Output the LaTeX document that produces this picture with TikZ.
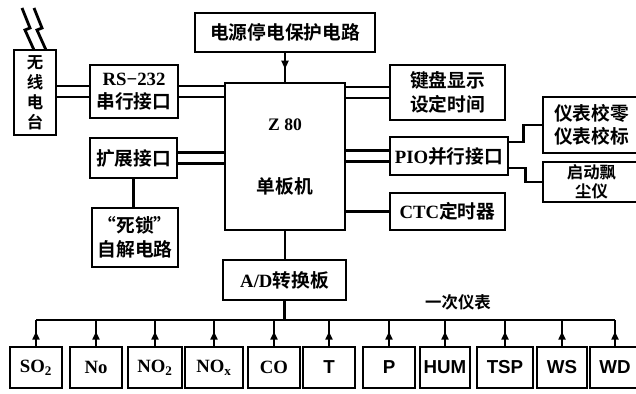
\documentclass[tikz,border=0pt]{standalone}
\usepackage{fontspec}
\setmainfont{Liberation Serif}
\setsansfont{Liberation Sans}
\newfontfamily\cjk{Noto Sans CJK SC}[UprightFont={* Bold}]
\newcommand\lat{\rmfamily\bfseries}
\usetikzlibrary{calc,decorations.markings,arrows.meta}
\begin{document}
\begin{tikzpicture}[x=0.03cm,y=-0.03cm,
  box/.style={draw,line width=2.4pt,rectangle,inner sep=0pt,font=\cjk\fontsize{16}{20}\selectfont,align=center},
  sens/.style={box,minimum height=1.23cm,font=\lat\fontsize{16}{18}\selectfont},
  sensf/.style={box,minimum height=1.23cm,font=\sffamily\bfseries\fontsize{16}{18}\selectfont},
  dbl/.style={line width=2.2pt,double,double distance=7.5pt},
  wire/.style={line width=2.4pt},
  midarrow/.style={decoration={markings,mark=at position 0.55 with {\arrow{Triangle[length=7pt,width=6pt]}}},postaction={decorate}},
]
\useasboundingbox (0,0) rectangle (636,394);
\clip (0,0) rectangle (636,394);

% lightning
\draw[wire,line join=miter] (22,8) -- (30,28) -- (25,30) -- (34,50);
\draw[wire,line join=miter] (34,8) -- (42,28) -- (37,30) -- (46,50);

\node[box,minimum width=1.26cm,minimum height=2.55cm,font=\cjk\fontsize{14}{17}\selectfont] (radio) at (35,92.5) {无\\线\\电\\台};
\node[box,minimum width=2.64cm,minimum height=1.59cm] (rs) at (134,91.5) {{\lat RS−232}\\串行接口};
\node[box,minimum width=5.4cm,minimum height=1.17cm] (power) at (285,32.5) {电源停电保护电路};
\node[box,minimum width=3.6cm,minimum height=4.41cm] (z80) at (285,156.5) {};
\node[font=\lat\fontsize{15}{18}\selectfont] (z80a) at (285,125) {Z 80};
\node[font=\cjk\fontsize{16}{20}\selectfont] (z80b) at (285,186) {单板机};
\node[box,minimum width=3.45cm,minimum height=1.65cm] (kbd) at (447.5,92.5) {键盘显示\\设定时间};
\node[box,minimum width=3.54cm,minimum height=1.14cm] (pio) at (449,156) {{\lat PIO}并行接口};
\node[box,minimum width=3.45cm,minimum height=1.11cm] (ctc) at (447.5,211.5) {{\lat CTC}定时器};
\node[box,minimum width=2.91cm,minimum height=1.68cm] (cal) at (591.5,125) {仪表校零\\仪表校标};
\node[box,minimum width=2.91cm,minimum height=1.2cm,font=\cjk\fontsize{14}{16}\selectfont] (start) at (591.5,182) {启动飘\\尘仪};
\node[box,minimum width=2.61cm,minimum height=1.2cm] (ext) at (133.5,158) {扩展接口};
\node[box,minimum width=2.58cm,minimum height=1.77cm] (dead) at (135,237.5) {“死锁”\\自解电路};
\node[box,minimum width=3.69cm,minimum height=1.2cm] (ad) at (284.5,280) {{\lat A/D}转换板};
\node[font=\cjk\fontsize{14}{16}\selectfont] (lbl) at (458,302) {一次仪表};

% sensors
\node[sens,minimum width=1.56cm] (s1) at (36,367.5) {SO\textsubscript{2}};
\node[sens,minimum width=1.56cm] (s2) at (96,367.5) {No};
\node[sens,minimum width=1.62cm] (s3) at (155,367.5) {NO\textsubscript{2}};
\node[sens,minimum width=1.74cm] (s4) at (214,367.5) {NO\textsubscript{x}};
\node[sens,minimum width=1.56cm] (s5) at (274,367.5) {CO};
\node[sensf,minimum width=1.56cm] (s6) at (329,367.5) {T};
\node[sensf,minimum width=1.56cm] (s7) at (389,367.5) {P};
\node[sensf,minimum width=1.5cm] (s8) at (445,367.5) {HUM};
\node[sensf,minimum width=1.68cm] (s9) at (505,367.5) {TSP};
\node[sensf,minimum width=1.5cm] (s10) at (562,367.5) {WS};
\node[sensf,minimum width=1.5cm] (s11) at (615,367.5) {WD};

\coordinate (busy) at (0,320);

% connectors
\draw[dbl] (radio.east |- rs.west) -- (rs.west);
\draw[dbl] (rs.east) -- (rs.east -| z80.west);
\draw[dbl] (ext.east) -- (ext.east -| z80.west);
\draw[dbl] (kbd.west) -- (kbd.west -| z80.east);
\draw[dbl] (pio.west) -- (pio.west -| z80.east);
\draw[wire] (ctc.west) -- (ctc.west -| z80.east);
\draw[wire,midarrow] (power.south) -- (power.south |- z80.north);
\draw[wire] (ext.south) -- (ext.south |- dead.north);
\draw[wire] (z80.south) -- (z80.south |- ad.north);
\draw[wire] ($(pio.east)+(0,-14)$) -- ++(14,0) |- (cal.west);
\draw[wire] ($(pio.east)+(0,12)$) -- ++(16,0) |- (start.west);
\draw[wire] (ad.south) -- (ad.south |- busy);
\draw[wire] (s1.north |- busy) -- (s11.north |- busy);
\foreach \s in {s1,s2,s3,s4,s5,s6,s7,s8,s9,s10,s11}
  \draw[wire,midarrow] (\s.north) -- (\s.north |- busy);
\end{tikzpicture}
\end{document}
